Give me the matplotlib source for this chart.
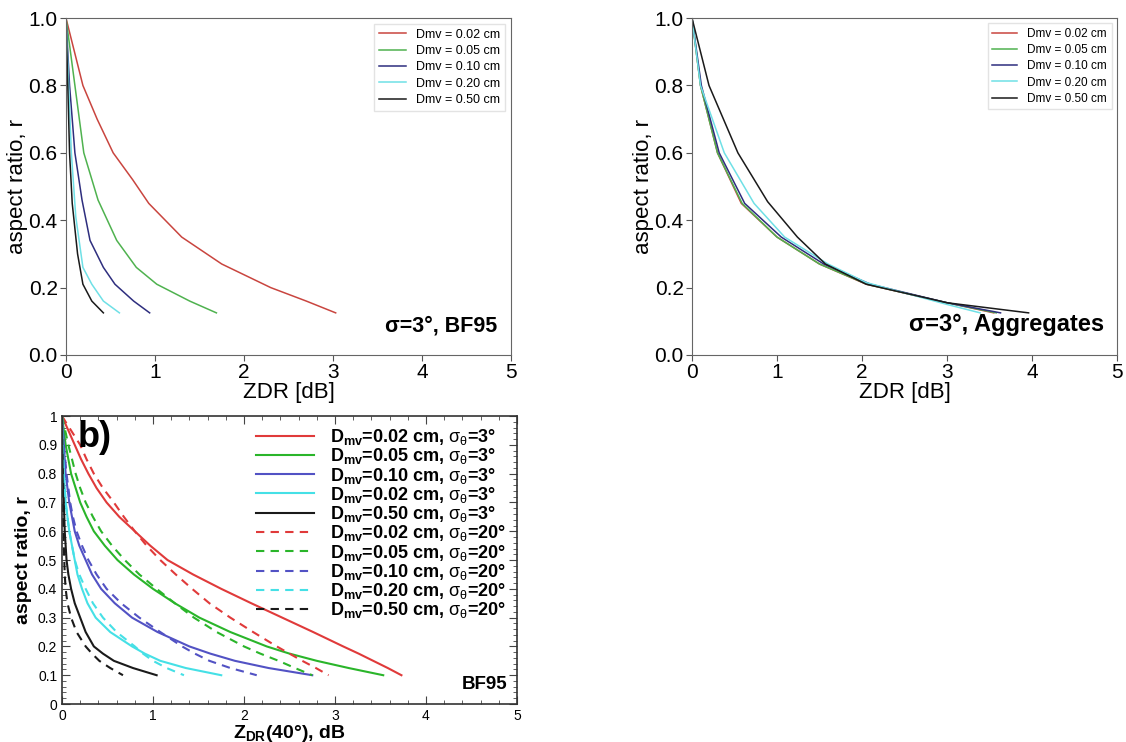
import numpy as np
import matplotlib
matplotlib.use("Agg")
import matplotlib.pyplot as plt
from matplotlib.ticker import MultipleLocator

plt.rcParams['font.family'] = ['Liberation Sans', 'DejaVu Sans']
plt.rcParams['mathtext.fontset'] = 'custom'
plt.rcParams['mathtext.rm'] = 'Liberation Sans'
plt.rcParams['mathtext.bf'] = 'Liberation Sans:bold'
plt.rcParams['mathtext.it'] = 'Liberation Sans:italic'

# ---- data: top-left, BF95, sigma = 3 deg ----
dmv_labels = ['Dmv = 0.02 cm', 'Dmv = 0.05 cm', 'Dmv = 0.10 cm', 'Dmv = 0.20 cm', 'Dmv = 0.50 cm']
top_colors = ['#c9453f', '#4fb24f', '#2e2e7e', '#6fe0e6', '#1a1a1a']

bf_x = [
    [0, 0.19, 0.35, 0.53, 0.75, 0.93, 1.30, 1.75, 2.30, 2.70, 3.03],
    [0, 0.10, 0.20, 0.36, 0.57, 0.79, 1.02, 1.39, 1.69],
    [0, 0.04, 0.10, 0.18, 0.27, 0.42, 0.55, 0.76, 0.94],
    [0, 0.03, 0.06, 0.11, 0.19, 0.29, 0.42, 0.60],
    [0, 0.02, 0.04, 0.07, 0.13, 0.19, 0.29, 0.42],
]
bf_r = [
    [1.0, 0.8, 0.7, 0.6, 0.52, 0.45, 0.35, 0.27, 0.20, 0.16, 0.125],
    [1.0, 0.8, 0.6, 0.46, 0.34, 0.26, 0.21, 0.16, 0.125],
    [1.0, 0.8, 0.6, 0.46, 0.34, 0.26, 0.21, 0.16, 0.125],
    [1.0, 0.8, 0.6, 0.41, 0.26, 0.21, 0.16, 0.125],
    [1.0, 0.8, 0.6, 0.45, 0.30, 0.21, 0.16, 0.125],
]

# ---- data: top-right, aggregates, sigma = 3 deg ----
agg_x = [
    [0, 0.10, 0.30, 0.58, 1.00, 1.50, 2.05, 3.00, 3.55],
    [0, 0.10, 0.30, 0.59, 1.00, 1.50, 2.06, 3.00, 3.58],
    [0, 0.11, 0.32, 0.62, 1.05, 1.55, 2.10, 3.00, 3.63],
    [0, 0.10, 0.38, 0.73, 1.09, 1.60, 2.05, 3.00, 3.39],
    [0, 0.20, 0.54, 0.89, 1.24, 1.57, 2.05, 3.00, 3.96],
]
agg_r = [
    [1.0, 0.8, 0.6, 0.45, 0.35, 0.27, 0.21, 0.155, 0.125],
    [1.0, 0.8, 0.6, 0.45, 0.35, 0.27, 0.21, 0.155, 0.125],
    [1.0, 0.8, 0.6, 0.45, 0.35, 0.27, 0.21, 0.155, 0.125],
    [1.0, 0.8, 0.6, 0.45, 0.35, 0.27, 0.215, 0.15, 0.125],
    [1.0, 0.8, 0.6, 0.455, 0.35, 0.27, 0.21, 0.155, 0.125],
]

# ---- data: bottom panel b), ZDR(40 deg), BF95 ----
b_labels = [
    r'D$_{\mathbf{mv}}$=0.02 cm, $\mathrm{\sigma_{\theta}}$=3°',
    r'D$_{\mathbf{mv}}$=0.05 cm, $\mathrm{\sigma_{\theta}}$=3°',
    r'D$_{\mathbf{mv}}$=0.10 cm, $\mathrm{\sigma_{\theta}}$=3°',
    r'D$_{\mathbf{mv}}$=0.02 cm, $\mathrm{\sigma_{\theta}}$=3°',
    r'D$_{\mathbf{mv}}$=0.50 cm, $\mathrm{\sigma_{\theta}}$=3°',
    r'D$_{\mathbf{mv}}$=0.02 cm, $\mathrm{\sigma_{\theta}}$=20°',
    r'D$_{\mathbf{mv}}$=0.05 cm, $\mathrm{\sigma_{\theta}}$=20°',
    r'D$_{\mathbf{mv}}$=0.10 cm, $\mathrm{\sigma_{\theta}}$=20°',
    r'D$_{\mathbf{mv}}$=0.20 cm, $\mathrm{\sigma_{\theta}}$=20°',
    r'D$_{\mathbf{mv}}$=0.50 cm, $\mathrm{\sigma_{\theta}}$=20°',
]
b_colors = ['#e03a3a', '#2ab52a', '#5252c4', '#45e0e6', '#1a1a1a'] * 2
b_styles = ['-'] * 5 + ['--'] * 5
b_r = [1.0, 0.95, 0.9, 0.85, 0.8, 0.75, 0.7, 0.65, 0.6, 0.55,
       0.5, 0.45, 0.4, 0.35, 0.3, 0.25, 0.2, 0.175, 0.15, 0.125, 0.1]
b_x = [
    # sigma = 3 deg
    [0, 0.07, 0.14, 0.21, 0.29, 0.38, 0.49, 0.63, 0.80, 0.97, 1.16, 1.44, 1.75, 2.08, 2.42, 2.76, 3.09, 3.26, 3.42, 3.58, 3.73],
    [0, 0.02, 0.04, 0.07, 0.10, 0.15, 0.20, 0.27, 0.35, 0.47, 0.61, 0.79, 1.00, 1.24, 1.51, 1.85, 2.25, 2.50, 2.80, 3.15, 3.53],
    [0, 0.01, 0.02, 0.03, 0.04, 0.06, 0.08, 0.11, 0.14, 0.19, 0.26, 0.33, 0.43, 0.58, 0.77, 1.05, 1.40, 1.63, 1.90, 2.27, 2.75],
    [0, 0.005, 0.01, 0.015, 0.02, 0.03, 0.04, 0.06, 0.08, 0.11, 0.14, 0.17, 0.22, 0.28, 0.37, 0.53, 0.77, 0.91, 1.08, 1.36, 1.75],
    [0, 0.003, 0.005, 0.008, 0.01, 0.015, 0.02, 0.025, 0.03, 0.04, 0.05, 0.07, 0.10, 0.14, 0.20, 0.26, 0.35, 0.45, 0.57, 0.78, 1.04],
    # sigma = 20 deg
    [0, 0.10, 0.20, 0.27, 0.35, 0.45, 0.57, 0.68, 0.80, 0.93, 1.08, 1.25, 1.43, 1.62, 1.85, 2.10, 2.36, 2.50, 2.64, 2.79, 2.93],
    [0, 0.035, 0.07, 0.11, 0.15, 0.20, 0.26, 0.34, 0.43, 0.55, 0.69, 0.85, 1.04, 1.24, 1.45, 1.70, 2.00, 2.18, 2.38, 2.56, 2.75],
    [0, 0.01, 0.02, 0.035, 0.05, 0.07, 0.09, 0.12, 0.16, 0.22, 0.29, 0.38, 0.49, 0.65, 0.85, 1.08, 1.32, 1.46, 1.62, 1.85, 2.14],
    [0, 0.005, 0.01, 0.015, 0.02, 0.03, 0.04, 0.06, 0.08, 0.11, 0.14, 0.19, 0.26, 0.34, 0.45, 0.60, 0.80, 0.89, 1.00, 1.15, 1.34],
    [0, 0.002, 0.003, 0.005, 0.006, 0.008, 0.01, 0.012, 0.015, 0.02, 0.025, 0.03, 0.04, 0.06, 0.10, 0.16, 0.26, 0.33, 0.41, 0.53, 0.67],
]

fig = plt.figure(figsize=(11.26, 7.42), dpi=100)


def top_panel(ax, xs, rs, tag, tagsize, legsize):
    for x, r, c, lab in zip(xs, rs, top_colors, dmv_labels):
        ax.plot(x, r, color=c, lw=1.1, label=lab)
    ax.set_xlim(0, 5)
    ax.set_ylim(0, 1.0)
    ax.set_xticks(range(6))
    ax.set_yticks(np.arange(0, 1.01, 0.2))
    ax.set_yticklabels(['0.0', '0.2', '0.4', '0.6', '0.8', '1.0'])
    ax.tick_params(labelsize=15, length=4, color='#555555', pad=2)
    for s in ax.spines.values():
        s.set_color('#666666')
    ax.set_xlabel('ZDR [dB]', fontsize=16, labelpad=0)
    ax.set_ylabel('aspect ratio, r', fontsize=16, labelpad=0)
    ax.legend(loc='upper right', fontsize=legsize, frameon=True, edgecolor='#dddddd',
              fancybox=False, handlelength=2.1, handletextpad=0.85,
              borderaxespad=0.45, labelspacing=0.35)
    ax.text(0.97, 0.055, tag, transform=ax.transAxes, ha='right', va='bottom',
            fontsize=tagsize, fontweight='bold')


ax1 = fig.add_axes([66 / 1126, 0.5216, 445 / 1126, 0.454])
top_panel(ax1, bf_x, bf_r, 'σ=3°, BF95', 15.5, 9)

ax2 = fig.add_axes([692 / 1126, 0.5216, 425 / 1126, 0.454])
top_panel(ax2, agg_x, agg_r, 'σ=3°, Aggregates', 17, 8.5)

# bottom panel
ax3 = fig.add_axes([62 / 1126, 0.0512, 455 / 1126, 0.388])
for x, c, ls, lab in zip(b_x, b_colors, b_styles, b_labels):
    ax3.plot(x, b_r, color=c, ls=ls, lw=1.5, label=lab,
             dashes=(4, 3) if ls == '--' else (None, None))
ax3.set_xlim(0, 5)
ax3.set_ylim(0, 1)
ax3.set_xticks(range(6))
ax3.set_yticks(np.arange(0, 1.01, 0.1))
ax3.set_yticklabels(['0', '0.1', '0.2', '0.3', '0.4', '0.5', '0.6', '0.7', '0.8', '0.9', '1'])
ax3.xaxis.set_minor_locator(MultipleLocator(0.2))
ax3.yaxis.set_minor_locator(MultipleLocator(0.02))
ax3.tick_params(which='both', direction='in', top=True, right=True, labelsize=10, color='#444444')
ax3.tick_params(which='major', length=6)
ax3.tick_params(which='minor', length=3)
for s in ax3.spines.values():
    s.set_color('#333333')
    s.set_linewidth(1.2)
ax3.set_xlabel(r'Z$_{\mathbf{DR}}$(40°), dB', fontsize=14, fontweight='bold', labelpad=0)
ax3.set_ylabel('aspect ratio, r', fontsize=14, fontweight='bold', labelpad=4)
ax3.legend(loc='upper right', frameon=False, handlelength=3.2, handletextpad=0.9,
           labelspacing=-0.04, borderaxespad=0.2, prop={'weight': 'bold', 'size': 13})
ax3.text(0.035, 0.985, 'b)', transform=ax3.transAxes, ha='left', va='top',
         fontsize=26, fontweight='bold')
ax3.text(0.978, 0.038, 'BF95', transform=ax3.transAxes, ha='right', va='bottom',
         fontsize=13.5, fontweight='bold')

fig.savefig('out.png', dpi=100)
